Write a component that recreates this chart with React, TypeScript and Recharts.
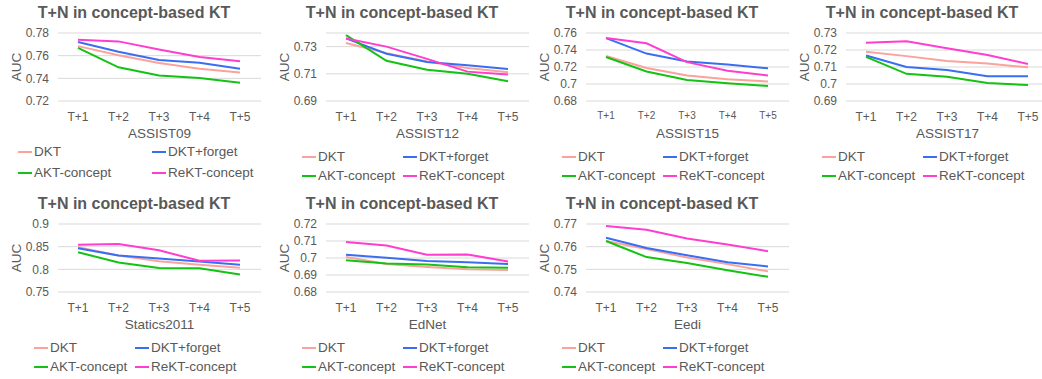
import { LineChart, Line, XAxis, YAxis, CartesianGrid } from "recharts";

const CATEGORIES = ["T+1", "T+2", "T+3", "T+4", "T+5"];
const MODELS = ["DKT", "DKT+forget", "AKT-concept", "ReKT-concept"];
const COLORS = ["#FBA29C", "#3A6EF2", "#14C214", "#FF3DD0"];

// rows follow MODELS order: DKT, DKT+forget, AKT-concept, ReKT-concept
const assist09 = [
  [0.7684, 0.7604, 0.7535, 0.7485, 0.7452],
  [0.772, 0.7634, 0.7562, 0.7538, 0.7485],
  [0.7669, 0.7497, 0.7426, 0.7402, 0.736],
  [0.774, 0.7726, 0.7654, 0.7589, 0.755],
];
const assist12 = [
  [0.7327, 0.7252, 0.7191, 0.7142, 0.7111],
  [0.736, 0.7247, 0.7186, 0.7162, 0.7135],
  [0.7385, 0.7196, 0.713, 0.71, 0.7045],
  [0.736, 0.73, 0.721, 0.7116, 0.7094],
];
const assist15 = [
  [0.7329, 0.7188, 0.7099, 0.7055, 0.703],
  [0.754, 0.7358, 0.7265, 0.7229, 0.7184],
  [0.7317, 0.7147, 0.7046, 0.701, 0.6977],
  [0.754, 0.7479, 0.7257, 0.7156, 0.7099],
];
const assist17 = [
  [0.719, 0.7164, 0.7136, 0.712, 0.7098],
  [0.7168, 0.71, 0.7082, 0.7046, 0.7046],
  [0.716, 0.706, 0.7042, 0.7006, 0.6994],
  [0.7242, 0.7252, 0.721, 0.717, 0.7118],
];
const statics2011 = [
  [0.8486, 0.8304, 0.818, 0.8101, 0.8036],
  [0.8464, 0.8304, 0.8239, 0.8174, 0.8101],
  [0.8377, 0.8152, 0.8029, 0.8022, 0.7884],
  [0.8543, 0.8558, 0.842, 0.8188, 0.8196],
];
const ednet = [
  [0.7006, 0.6965, 0.6947, 0.6934, 0.693],
  [0.7019, 0.7002, 0.6983, 0.6975, 0.6965],
  [0.6987, 0.6968, 0.6962, 0.6946, 0.6943],
  [0.7094, 0.7073, 0.7019, 0.7021, 0.698],
];
const eedi = [
  [0.7625, 0.759, 0.7552, 0.7523, 0.7491],
  [0.7639, 0.7594, 0.7562, 0.7531, 0.7513],
  [0.7625, 0.7554, 0.7528, 0.7496, 0.7467],
  [0.7691, 0.7675, 0.7636, 0.761, 0.758],
];

const ticks09 = [0.72, 0.74, 0.76, 0.78];
const ticks12 = [0.69, 0.71, 0.73];
const ticks15 = [0.68, 0.7, 0.72, 0.74, 0.76];
const ticks17 = [0.69, 0.7, 0.71, 0.72, 0.73];
const ticksStatics = [0.75, 0.8, 0.85, 0.9];
const ticksEdnet = [0.68, 0.69, 0.7, 0.71, 0.72];
const ticksEedi = [0.74, 0.75, 0.76, 0.77];

const FONT = '"Liberation Sans", Arial, sans-serif';
const GREY = "#595959";

type PanelProps = {
  name: string;
  values: number[][];
  ticks: number[];
  domain: [number, number];
  left: number;
  top: number;
  xFont?: number;
  legendX?: [number, number];
  legendY?: [number, number];
};

function Panel({
  name,
  values,
  ticks,
  domain,
  left,
  top,
  xFont = 12,
  legendX = [42, 143],
  legendY = [157, 176],
}: PanelProps) {
  const rows = CATEGORIES.map((cat, i) => {
    const row: any = { cat };
    values.forEach((s, k) => (row["s" + k] = s[i]));
    return row;
  });

  return (
    <div style={{ position: "absolute", left, top, width: 284, height: 190 }}>
      <div
        style={{
          position: "absolute",
          left: 0,
          top: 3,
          width: 284,
          textAlign: "center",
          fontSize: 16,
          fontWeight: "bold",
          lineHeight: "20px",
          color: GREY,
        }}
      >
        T+N in concept-based KT
      </div>
      <LineChart
        width={270}
        height={190}
        data={rows}
        margin={{ top: 33, right: 1, left: 0, bottom: 49 }}
      >
        <CartesianGrid vertical={false} stroke="#D9D9D9" strokeWidth={1} />
        <XAxis
          dataKey="cat"
          axisLine={false}
          tickLine={false}
          tickSize={0}
          tickMargin={11}
          height={40}
          interval={0}
          padding={{ left: 20, right: 21 }}
          tick={{ fill: GREY, fontSize: xFont, fontFamily: FONT }}
          label={{
            value: name,
            position: "insideBottom",
            offset: 3,
            fill: GREY,
            fontSize: 13.5,
            fontFamily: FONT,
          }}
        />
        <YAxis
          width={66}
          domain={domain}
          ticks={ticks}
          interval={0}
          allowDataOverflow
          axisLine={false}
          tickLine={false}
          tickSize={0}
          tickMargin={9}
          tickFormatter={(v: number) => String(Number(v.toFixed(2)))}
          tick={{ fill: GREY, fontSize: 12, fontFamily: FONT }}
          label={{
            value: "AUC",
            angle: -90,
            position: "insideLeft",
            offset: 24,
            fill: GREY,
            fontSize: 13.5,
            fontFamily: FONT,
            style: { textAnchor: "middle" },
          }}
        />
        {MODELS.map((m, k) => (
          <Line
            key={m}
            dataKey={"s" + k}
            name={m}
            stroke={COLORS[k]}
            strokeWidth={2}
            dot={false}
            isAnimationActive={false}
          />
        ))}
      </LineChart>
      {MODELS.map((m, k) => (
        <div
          key={m}
          style={{
            position: "absolute",
            left: legendX[k % 2],
            top: legendY[Math.floor(k / 2)] - 9,
            height: 18,
            lineHeight: "18px",
            fontSize: 13.5,
            color: GREY,
            whiteSpace: "nowrap",
            display: "flex",
            alignItems: "center",
          }}
        >
          <span
            style={{
              display: "inline-block",
              width: 14,
              height: 2,
              background: COLORS[k],
              marginRight: 2,
            }}
          />
          {m}
        </div>
      ))}
    </div>
  );
}

export default function App() {
  return (
    <div
      style={{
        position: "absolute",
        left: 0,
        top: 0,
        width: 1042,
        height: 379,
        overflow: "hidden",
        background: "#fff",
        fontFamily: FONT,
      }}
    >
      <Panel
        name="ASSIST09"
        values={assist09}
        ticks={ticks09}
        domain={[0.72, 0.78]}
        left={-8}
        top={0}
        legendX={[26, 160]}
        legendY={[152, 173]}
      />
      <Panel name="ASSIST12" values={assist12} ticks={ticks12} domain={[0.69, 0.74]} left={260} top={0} />
      <Panel
        name="ASSIST15"
        values={assist15}
        ticks={ticks15}
        domain={[0.68, 0.76]}
        left={520}
        top={0}
        xFont={10}
      />
      <Panel name="ASSIST17" values={assist17} ticks={ticks17} domain={[0.69, 0.73]} left={780} top={0} />
      <Panel
        name="Statics2011"
        values={statics2011}
        ticks={ticksStatics}
        domain={[0.75, 0.9]}
        left={-8}
        top={191}
      />
      <Panel name="EdNet" values={ednet} ticks={ticksEdnet} domain={[0.68, 0.72]} left={260} top={191} />
      <Panel name="Eedi" values={eedi} ticks={ticksEedi} domain={[0.74, 0.77]} left={520} top={191} />
    </div>
  );
}
